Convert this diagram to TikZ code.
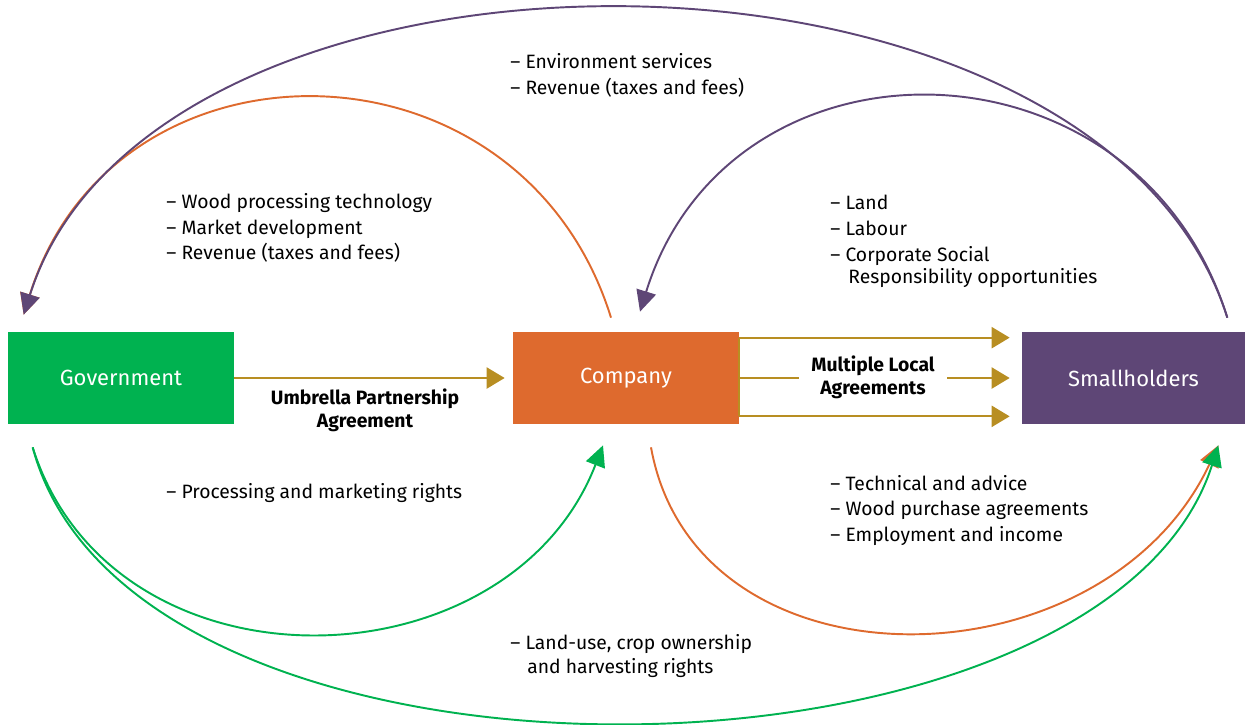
\documentclass[tikz,border=0pt]{standalone}
\usepackage{fontspec}
\setmainfont{Fira Sans}
\usetikzlibrary{arrows.meta}

\definecolor{govgreen}{RGB}{0,178,80}
\definecolor{coorange}{RGB}{222,106,46}
\definecolor{smpurple}{RGB}{94,70,118}
\definecolor{dealgold}{RGB}{184,142,34}

\begin{document}
\begin{tikzpicture}[x=0.02cm, y=-0.02cm,
		party/.style={rectangle, minimum width=4.52cm, minimum height=1.84cm, inner sep=0pt, text=white, font=\fontsize{12.5}{15}\selectfont},
		note/.style={anchor=west, align=left, inner sep=0pt, font=\fontsize{11}{14.7}\selectfont},
		flow/.style={line width=1.1pt, -{Triangle[length=0.42cm, width=0.4cm]}},
		pact/.style={dealgold, line width=1.3pt, -{Triangle[length=0.36cm, width=0.42cm]}},
		pactlabel/.style={align=center, inner sep=0pt, font=\bfseries\fontsize{11}{13.4}\selectfont}]
		\useasboundingbox (0,0) rectangle (1245,724);

		\node (gov) [party, fill=govgreen] at (121,378) {Government};
		\node (comp) [party, fill=coorange] at (626,378) {Company};
		\node (small) [party, fill=smpurple, minimum width=4.46cm] at (1133.5,378) {Smallholders};

		% flows over the top
		\draw [flow, coorange] ([shift={(-15,-14)}]comp.north) .. controls +(-90,-290) and +(90,-290) .. ([shift={(16,-17)}]gov.north west);
		\draw [flow, smpurple] ([shift={(-18,-14)}]small.north east) .. controls +(-130,-410) and +(130,-410) .. ([shift={(16,-17)}]gov.north west);
		\draw [flow, smpurple] ([shift={(-18,-14)}]small.north east) .. controls +(-90,-290) and +(90,-290) .. ([shift={(14,-20)}]comp.north);

		% flows underneath
		\draw [flow, coorange] ([shift={(25,23)}]comp.south) .. controls +(45,250) and +(-115,245) .. ([shift={(-27,21)}]small.south east);
		\draw [flow, govgreen] ([shift={(25,23)}]gov.south west) .. controls +(100,375) and +(-115,360) .. ([shift={(-27,21)}]small.south east);
		\draw [flow, govgreen] ([shift={(25,23)}]gov.south west) .. controls +(80,253) and +(-95,245) .. ([shift={(-23,21)}]comp.south);

		% agreements
		\draw [pact, shorten >=0.16cm] (gov) -- (comp);
		\draw [dealgold, line width=1.3pt] ([shift={(0,6)}]comp.north east) -- ([shift={(0,-8)}]comp.south east);
		\draw [pact, shorten >=0.24cm] ([shift={(0,6)}]comp.north east) -- ([shift={(0,6)}]small.north west);
		\draw [pact, shorten >=0.24cm] (comp) -- (small);
		\draw [pact, shorten >=0.24cm] ([shift={(0,-8)}]comp.south east) -- ([shift={(0,-8)}]small.south west);

		\node (umbrella) [pactlabel] at (365,410.5) {Umbrella Partnership\\Agreement};
		\node (multiple) [pactlabel, fill=white, inner xsep=0.24cm, inner ysep=2pt] at (873,377.5) {Multiple Local\\Agreements};

		% what goes where
		\node (envnote) [note] at (510,75) {-- Environment services\\-- Revenue (taxes and fees)};
		\node (woodnote) [note] at (166,228) {-- Wood processing technology\\-- Market development\\-- Revenue (taxes and fees)};
		\node (landnote) [note] at (830,241.5) {-- Land\\-- Labour\\-- Corporate Social\\[-1.7pt]\hspace*{0.36cm}Responsibility opportunities};
		\node (rightsnote) [note] at (166,493) {-- Processing and marketing rights};
		\node (technote) [note] at (830,510.5) {-- Technical and advice\\-- Wood purchase agreements\\-- Employment and income};
		\node (tenurenote) [note] at (510,656) {-- Land-use, crop ownership\\[-1pt]\hspace*{0.34cm}and harvesting rights};
	\end{tikzpicture}
\end{document}
